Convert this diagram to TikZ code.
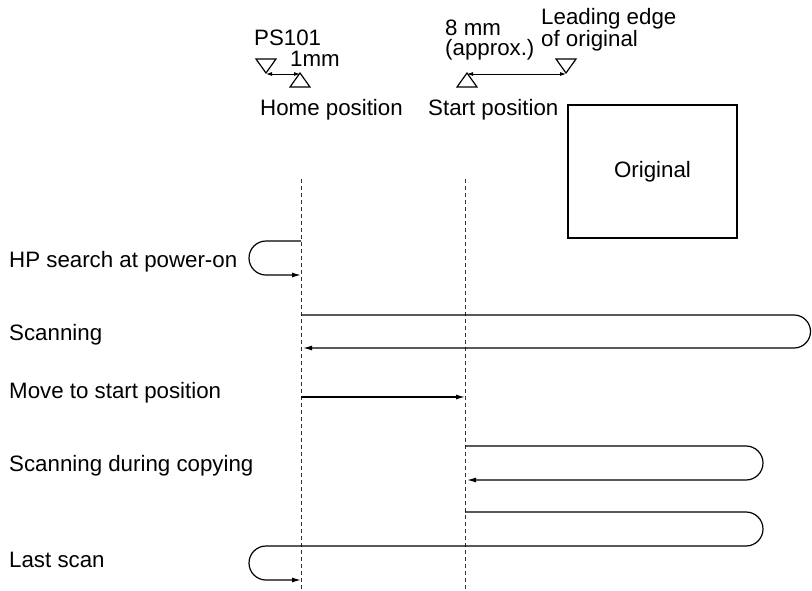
\documentclass[tikz,border=0pt]{standalone}
\usepackage{fontspec}
\setmainfont{Liberation Sans}
\usetikzlibrary{arrows.meta}

\begin{document}
\begin{tikzpicture}[
  x=1pt, y=-1pt,
  font=\fontsize{22.3}{20}\selectfont,
  txt/.style={anchor=base west, inner sep=0pt},
  twoline/.style={anchor=base west, inner sep=0pt, align=left},
  guide/.style={dash pattern=on 4pt off 3pt, line width=0.9pt, black!80},
  trip/.style={line width=1.2pt, -{Latex[length=9pt, width=5pt]}},
  gap/.style={line width=0.9pt, {Latex[length=6pt, width=4pt]}-{Latex[length=6pt, width=4pt]}},
  marker/.style={line width=1.2pt, line join=miter}
]
\useasboundingbox (0,0) rectangle (812,590);

\node[txt] (ps) at (254,45) {PS101};
\node[txt] (onemm) at (290,66) {1mm};
\node[txt] (home) at (260,115) {Home position};
\node[twoline] (approx) at (445,55) {8 mm\\(approx.)};
\node[twoline] (edge) at (541,46.5) {Leading edge\\of original};
\node[txt] (start) at (428,115) {Start position};
\node[draw, line width=1.2pt, minimum width=169pt, minimum height=133pt] (orig) at (652.5,171.5) {Original};

\coordinate (ps tip) at (266,73);
\coordinate (home tip) at (300,73);
\coordinate (start tip) at (467,73);
\coordinate (edge tip) at (566,73);
\draw[marker] (ps tip) -- ++(-10,-14) -- ++(20,0) -- cycle;
\draw[marker] (home tip) -- ++(-10,14) -- ++(20,0) -- cycle;
\draw[marker] (start tip) -- ++(-10,14) -- ++(20,0) -- cycle;
\draw[marker] (edge tip) -- ++(-10,-14) -- ++(20,0) -- cycle;
\draw[gap] ([yshift=-1pt]ps tip) -- ([yshift=-1pt]home tip);
\draw[gap] ([yshift=-1pt]start tip) -- ([yshift=-1pt]edge tip);

\coordinate (home top) at (301.5,179);
\coordinate (home bot) at (301.5,590);
\coordinate (start top) at (465.5,179);
\coordinate (start bot) at (465.5,590);
\draw[guide] (home top) -- (home bot);
\draw[guide] (start top) -- (start bot);

\node[txt] (hp) at (9,267) {HP search at power-on};
\node[txt] (scan) at (9,340) {Scanning};
\node[txt] (move) at (9,398) {Move to start position};
\node[txt] (copy) at (9,471) {Scanning during copying};
\node[txt] (last) at (9,567) {Last scan};

\coordinate (hp a) at (301,241);
\coordinate (hp b) at (301,275);
\draw[trip] (hp a) -- ++(-35,0) arc[start angle=270, end angle=90, radius=17] -- (hp b);

\coordinate (scan a) at (301,315);
\coordinate (scan b) at (303,348);
\draw[trip] (scan a) -- (794,315) arc[start angle=270, end angle=450, radius=16.5] -- (scan b);

\coordinate (move a) at (301,397);
\coordinate (move b) at (465,397);
\draw[trip] (move a) -- (move b);

\coordinate (copy a) at (465,446);
\coordinate (copy b) at (467,480);
\draw[trip] (copy a) -- (746,446) arc[start angle=270, end angle=450, radius=17] -- (copy b);

\coordinate (last a) at (465,512);
\coordinate (last b) at (301,580);
\draw[trip] (last a) -- (746,512) arc[start angle=270, end angle=450, radius=17]
  -- (266,546) arc[start angle=270, end angle=90, radius=17] -- (last b);
\end{tikzpicture}
\end{document}
